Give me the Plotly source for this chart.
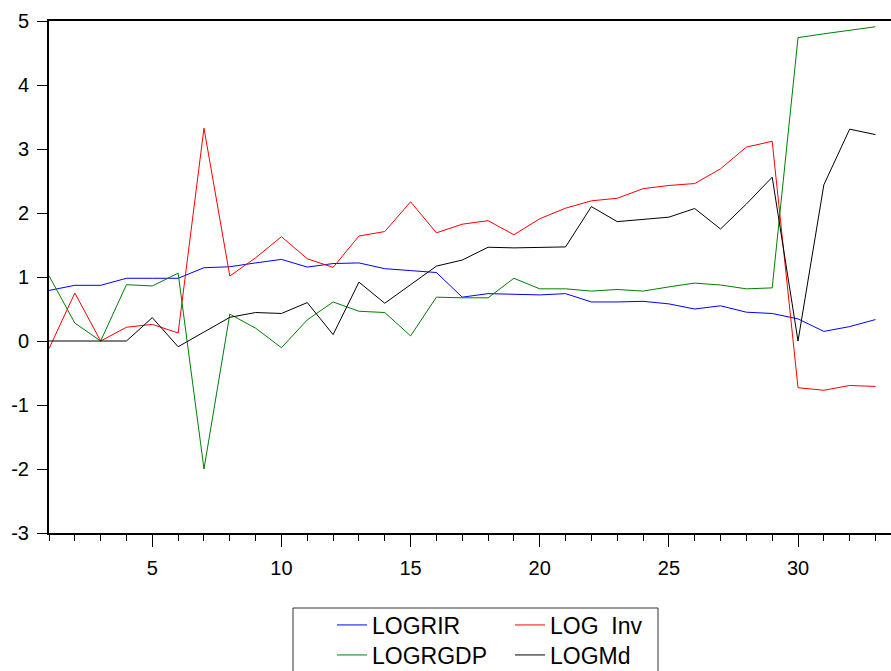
import plotly.graph_objects as go

periods = list(range(1, 34))

logrir = [0.79, 0.87, 0.87, 0.98, 0.98, 0.98, 1.145, 1.16, 1.22, 1.275,
          1.155, 1.21, 1.22, 1.13, 1.10, 1.07, 0.685, 0.74, 0.73, 0.72,
          0.74, 0.61, 0.61, 0.62, 0.58, 0.50, 0.55, 0.45, 0.43, 0.345,
          0.15, 0.225, 0.335]

log_inv = [-0.12, 0.75, 0.0, 0.215, 0.26, 0.125, 3.325, 1.015, 1.30, 1.63,
           1.285, 1.15, 1.64, 1.71, 2.175, 1.69, 1.825, 1.88, 1.66, 1.91,
           2.075, 2.19, 2.23, 2.38, 2.43, 2.46, 2.69, 3.03, 3.12, -0.73,
           -0.77, -0.695, -0.71]

logrgdp = [1.02, 0.28, 0.0, 0.88, 0.86, 1.06, -2.0, 0.42, 0.20, -0.105,
           0.33, 0.61, 0.465, 0.445, 0.08, 0.685, 0.675, 0.675, 0.98, 0.815,
           0.815, 0.78, 0.805, 0.78, 0.845, 0.905, 0.875, 0.815, 0.83, 4.74,
           4.80, 4.86, 4.91]

logmd = [0.0, 0.0, 0.0, 0.0, 0.365, -0.09, 0.14, 0.37, 0.445, 0.43,
         0.60, 0.10, 0.92, 0.59, 0.88, 1.17, 1.265, 1.465, 1.455, 1.46,
         1.47, 2.10, 1.865, 1.90, 1.935, 2.07, 1.75, 2.14, 2.56, 0.0,
         2.44, 3.31, 3.225]

y_tick_vals = [-3, -2, -1, 0, 1, 2, 3, 4, 5]
y_tick_text = ["-3", "-2", "-1", "0", "1", "2", "3", "4", "5"]
x_tick_vals = [5, 10, 15, 20, 25, 30]
x_tick_text = ["5", "10", "15", "20", "25", "30"]

series = [
    ("LOGRIR", logrir, "#0000FF", "legend"),
    ("LOG  Inv", log_inv, "#FF0000", "legend"),
    ("LOGRGDP", logrgdp, "#008000", "legend2"),
    ("LOGMd", logmd, "#000000", "legend2"),
]

FONT = "Liberation Sans, Arial, sans-serif"

fig = go.Figure()
for name, vals, color, leg in series:
    fig.add_trace(go.Scatter(
        x=periods, y=vals, mode="lines", name=name,
        line=dict(color=color, width=1), legend=leg,
    ))

W, H = 891, 671
L, R, T, B = 49, 0, 21, 138
pw = W - L - R
ph = H - T - B

def px_to_paper_x(px):
    return (px - L) / pw

def px_to_paper_y(py):
    return (H - B - py) / ph

legend_common = dict(
    orientation="h", xanchor="left", yanchor="middle",
    font=dict(family=FONT, size=23, color="black"),
    bgcolor="rgba(0,0,0,0)", borderwidth=0,
    entrywidth=133, entrywidthmode="pixels",
    tracegroupgap=0, itemclick=False, itemdoubleclick=False,
)

fig.update_layout(
    width=W, height=H,
    margin=dict(l=L, r=R, t=T, b=B, pad=0, autoexpand=False),
    paper_bgcolor="white", plot_bgcolor="white",
    font=dict(family=FONT, size=20, color="black"),
    showlegend=True,
    legend=dict(x=px_to_paper_x(332), y=px_to_paper_y(625), **legend_common),
    legend2=dict(x=px_to_paper_x(332), y=px_to_paper_y(655), **legend_common),
    xaxis=dict(
        range=[1, 33.6], showgrid=False, zeroline=False, automargin=False,
        showline=True, linecolor="black", linewidth=2, mirror=True,
        ticks="outside", ticklen=12, tickwidth=1, tickcolor="black",
        tickmode="array", tickvals=x_tick_vals, ticktext=x_tick_text,
        minor=dict(ticks="outside", ticklen=6, tickwidth=1, tickcolor="black",
                   tickmode="linear", dtick=1, tick0=0, showgrid=False),
        tickfont=dict(family=FONT, size=20, color="black"),
        ticklabelstandoff=4,
    ),
    yaxis=dict(
        range=[-3, 5], showgrid=False, zeroline=False, automargin=False,
        showline=True, linecolor="black", linewidth=2,
        ticks="outside", ticklen=10, tickwidth=1, tickcolor="black",
        tickmode="array", tickvals=y_tick_vals, ticktext=y_tick_text,
        tickfont=dict(family=FONT, size=20, color="black"),
        ticklabelstandoff=4,
    ),
    shapes=[dict(
        type="rect", xref="paper", yref="paper",
        x0=px_to_paper_x(293), x1=px_to_paper_x(658),
        y0=px_to_paper_y(608), y1=px_to_paper_y(690),
        line=dict(color="#333333", width=1), fillcolor="rgba(0,0,0,0)",
    )],
)

fig.write_html(
    "out.html",
    config={"displayModeBar": False, "staticPlot": True},
    post_script="document.body.style.margin='0';document.body.style.overflow='hidden';",
)
